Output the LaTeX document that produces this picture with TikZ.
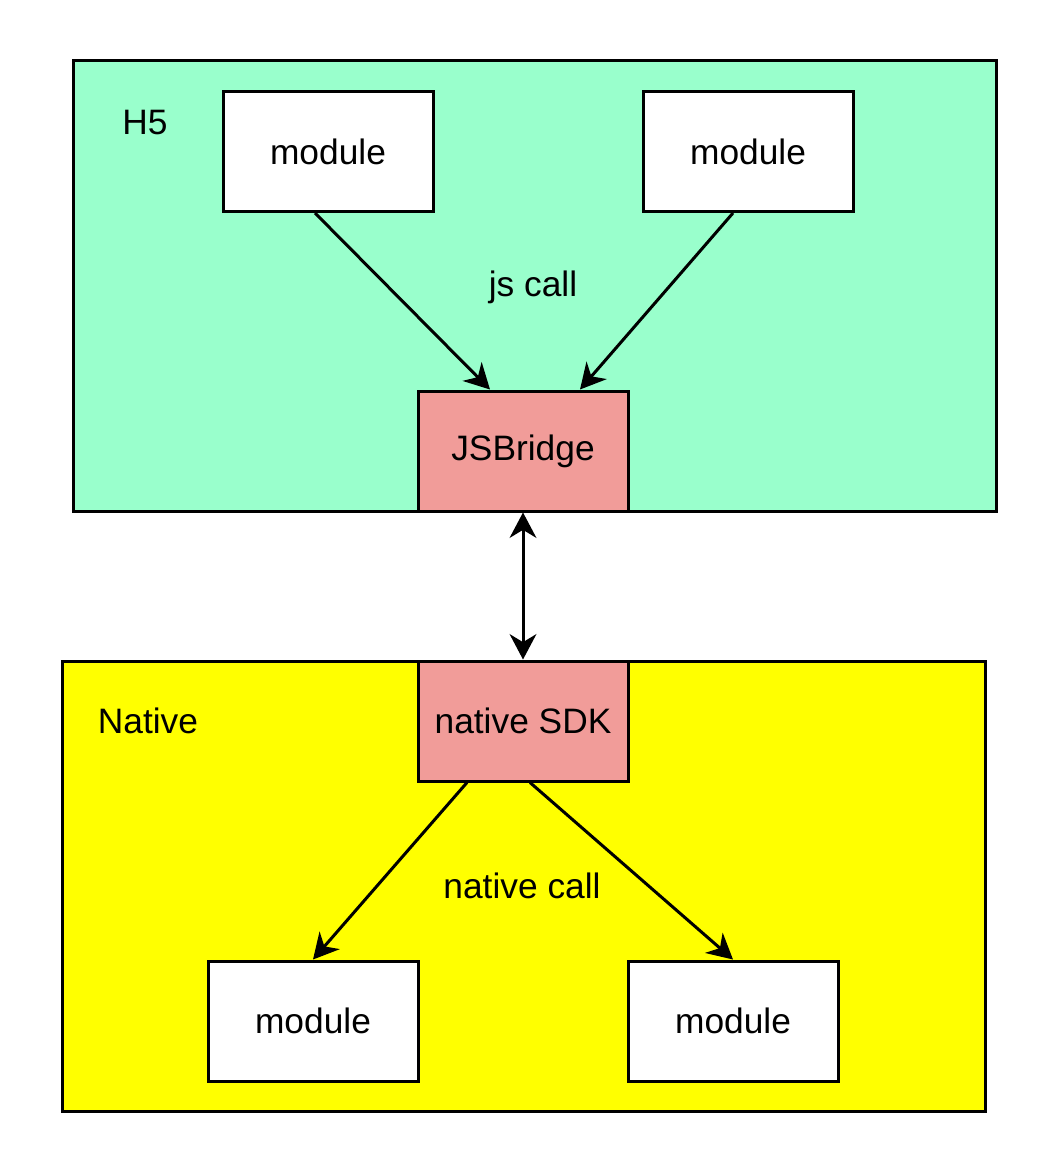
\documentclass[tikz,border=0pt]{standalone}
\usepackage{fontspec}
\setmainfont{Liberation Sans}
\usetikzlibrary{arrows.meta}
\definecolor{mint}{HTML}{99FFCC}
\definecolor{pinkbox}{HTML}{F19C99}
\definecolor{yel}{HTML}{FFFF00}
\begin{document}
\begin{tikzpicture}[x=0.75pt,y=-0.75pt,
  every node/.style={font=\fontsize{26.5}{31}\selectfont},
  box/.style={draw=black, line width=2.25pt, minimum width=157.5pt, minimum height=90pt, inner sep=0pt},
  container/.style={draw=black, line width=2.25pt, inner sep=0pt},
  lbl/.style={inner sep=0pt},
  conn/.style={line width=2.25pt, -{Stealth[length=19pt,width=20pt,inset=6pt]}},
  dconn/.style={line width=2.25pt, {Stealth[length=19pt,width=20pt,inset=6pt]}-{Stealth[length=19pt,width=20pt,inset=6pt]}}]
\useasboundingbox (0,0) rectangle (1059,1173);
\node[container, fill=mint, minimum width=692.25pt, minimum height=337.5pt] (h5) at (534.5,286) {};
\node[container, fill=yel, minimum width=692.25pt, minimum height=337.5pt] (native) at (523.5,886) {};
\node[box, fill=white] (m1) at (328,151.5) {module};
\node[box, fill=white] (m2) at (748,151.5) {module};
\node[box, fill=pinkbox] (jsb) at (523,451) {JSBridge};
\node[box, fill=pinkbox] (sdk) at (523,721) {native SDK};
\node[box, fill=white] (m3) at (313,1021) {module};
\node[box, fill=white] (m4) at (733,1021) {module};
\node[lbl] (h5l) at (145,123) {H5};
\node[lbl] (jsc) at (533,287) {js call};
\node[lbl] (natl) at (148,721) {Native};
\node[lbl] (natc) at (522,886) {native call};
\draw[conn] ([xshift=-9.75pt]m1.south) -- ([xshift=-24.75pt]jsb.north);
\draw[conn] ([xshift=-11.25pt]m2.south) -- ([xshift=42.75pt]jsb.north);
\draw[dconn] (jsb.south) -- (sdk.north);
\draw[conn] ([xshift=-42pt]sdk.south) -- (m3.north);
\draw[conn] ([xshift=5.25pt]sdk.south) -- (m4.north);
\end{tikzpicture}
\end{document}
